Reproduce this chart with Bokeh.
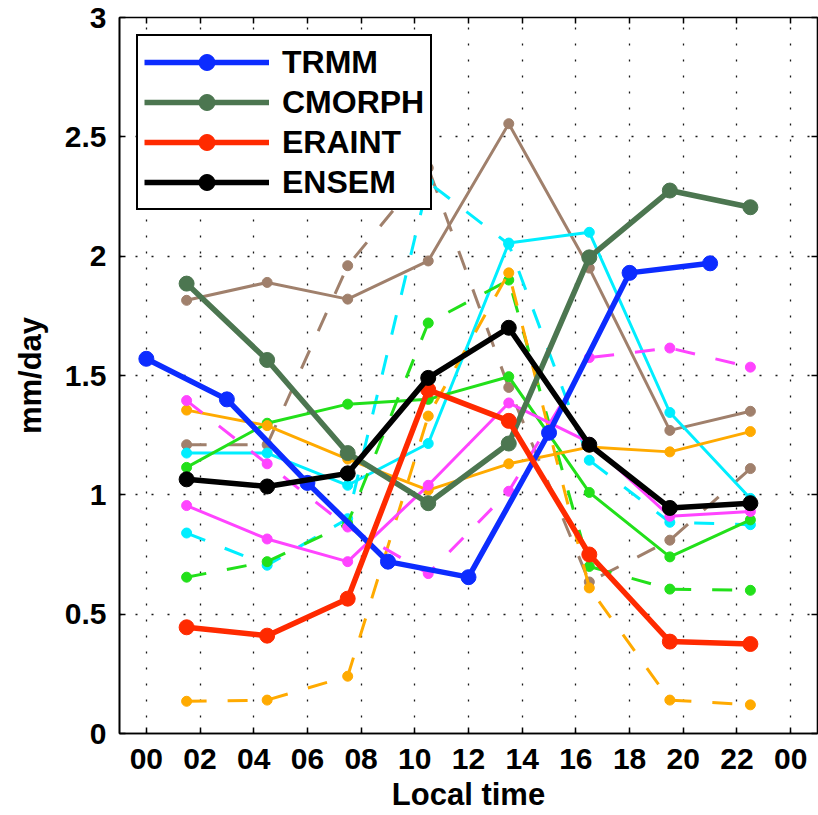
from bokeh.plotting import figure
from bokeh.models import FixedTicker, LinearAxis, Legend, LegendItem, Range1d
from bokeh.embed import file_html
from bokeh.resources import INLINE

# ---- data ----
hours_trmm = [0, 3, 6, 9, 12, 15, 18, 21]
hours_3h = [1.5, 4.5, 7.5, 10.5, 13.5, 16.5, 19.5, 22.5]

trmm = [1.57, 1.40, 1.05, 0.72, 0.655, 1.26, 1.93, 1.97]
cmorph = [1.885, 1.565, 1.175, 0.965, 1.215, 1.995, 2.275, 2.205]
eraint = [0.445, 0.41, 0.565, 1.44, 1.31, 0.75, 0.385, 0.375]
ensem = [1.065, 1.035, 1.09, 1.49, 1.70, 1.21, 0.945, 0.965]

brown_solid = [1.815, 1.89, 1.82, 1.98, 2.555, 1.95, 1.27, 1.35]
brown_dashed = [1.21, 1.21, 1.96, 2.37, 1.45, 0.635, 0.81, 1.11]
cyan_solid = [1.175, 1.175, 1.04, 1.215, 2.055, 2.10, 1.345, 0.985]
cyan_dashed = [0.84, 0.705, 0.90, 2.31, 2.05, 1.145, 0.885, 0.875]
green_solid = [1.115, 1.30, 1.38, 1.40, 1.495, 1.01, 0.74, 0.895]
green_dashed = [0.655, 0.72, 0.88, 1.72, 1.90, 0.70, 0.605, 0.60]
orange_solid = [1.355, 1.29, 1.15, 1.02, 1.13, 1.20, 1.18, 1.265]
orange_dashed = [0.135, 0.14, 0.24, 1.33, 1.93, 0.61, 0.14, 0.12]
magenta_solid = [0.955, 0.815, 0.72, 1.04, 1.385, 1.22, 0.91, 0.93]
magenta_dashed = [1.395, 1.13, 0.865, 0.67, 1.015, 1.575, 1.615, 1.535]

x_ticks = [0, 2, 4, 6, 8, 10, 12, 14, 16, 18, 20, 22, 24]
x_tick_labels = ["00", "02", "04", "06", "08", "10", "12", "14", "16", "18", "20", "22", "00"]
y_ticks = [0, 0.5, 1, 1.5, 2, 2.5, 3]
y_tick_labels = ["0", "0.5", "1", "1.5", "2", "2.5", "3"]

FONT = "Liberation Sans"

p = figure(width=818, height=815, x_range=Range1d(-1, 25), y_range=Range1d(0, 3),
           output_backend="svg", toolbar_location=None,
           min_border_left=119, min_border_right=1, min_border_top=17, min_border_bottom=82)
p.background_fill_color = "white"
p.border_fill_color = "white"
p.outline_line_color = "black"
p.outline_line_width = 1.6

# axes
for ax in (p.xaxis[0], p.yaxis[0]):
    ax.major_tick_in = 6
    ax.major_tick_out = 0
    ax.minor_tick_line_color = None
    ax.axis_line_width = 1.6
    ax.major_tick_line_width = 1.5
    ax.major_label_text_font = FONT
    ax.major_label_text_font_style = "bold"
    ax.major_label_text_font_size = "30px"
    ax.major_label_text_color = "black"
    ax.axis_label_text_font = FONT
    ax.axis_label_text_font_style = "bold"
    ax.axis_label_text_font_size = "31px"
    ax.axis_label_text_color = "black"

p.xaxis.ticker = FixedTicker(ticks=x_ticks)
p.xaxis.major_label_overrides = {t: l for t, l in zip(x_ticks, x_tick_labels)}
p.xaxis.axis_label = "Local time"
p.xaxis.major_label_standoff = 15
p.xaxis.axis_label_standoff = 5

p.yaxis.ticker = FixedTicker(ticks=y_ticks)
p.yaxis.major_label_overrides = {t: l for t, l in zip(y_ticks, y_tick_labels)}
p.yaxis.axis_label = "mm/day"
p.yaxis.major_label_standoff = 13
p.yaxis.axis_label_standoff = 14

# box ticks (top and right), labels not drawn
top_ax = LinearAxis(ticker=FixedTicker(ticks=x_ticks), major_label_text_font_size="1px",
                    major_label_text_color=None,
                    major_tick_in=6, major_tick_out=0, major_label_standoff=0,
                    minor_tick_line_color=None, axis_line_color=None, major_tick_line_width=1.5)
right_ax = LinearAxis(ticker=FixedTicker(ticks=y_ticks), major_label_text_font_size="1px",
                      major_label_text_color=None,
                      major_tick_in=6, major_tick_out=0, major_label_standoff=0,
                      minor_tick_line_color=None, axis_line_color=None, major_tick_line_width=1.5)
p.add_layout(top_ax, "above")
p.add_layout(right_ax, "right")

# grid
p.xgrid.ticker = FixedTicker(ticks=x_ticks)
p.ygrid.ticker = FixedTicker(ticks=y_ticks)
for g in (p.xgrid[0], p.ygrid[0]):
    g.grid_line_color = "black"
    g.grid_line_dash = "2 14"
    g.grid_line_width = 1.3
    g.grid_line_alpha = 0.9

DASH = "20 21"
thin = [
    (brown_solid, "#a0806c", "solid"),
    (brown_dashed, "#a0806c", DASH),
    (cyan_solid, "#00eeff", "solid"),
    (cyan_dashed, "#00eeff", DASH),
    (green_solid, "#22e01a", "solid"),
    (green_dashed, "#22e01a", DASH),
    (orange_solid, "#ffaa00", "solid"),
    (orange_dashed, "#ffaa00", DASH),
    (magenta_solid, "#ff44ff", "solid"),
    (magenta_dashed, "#ff44ff", DASH),
]
for vals, col, dash in thin:
    p.line(hours_3h, vals, line_color=col, line_width=3, line_dash=dash)
    p.scatter(hours_3h, vals, marker="circle", size=10, fill_color=col, line_color=col)

thick = [
    ("TRMM", hours_trmm, trmm, "#0c2cff"),
    ("CMORPH", hours_3h, cmorph, "#4c7650"),
    ("ERAINT", hours_3h, eraint, "#ff2a00"),
    ("ENSEM", hours_3h, ensem, "#000000"),
]
items = []
for name, xs, vals, col in thick:
    l = p.line(xs, vals, line_color=col, line_width=5.5)
    s = p.scatter(xs, vals, marker="circle", size=15, fill_color=col, line_color=col)
    items.append(LegendItem(label=name, renderers=[l, s]))

legend = Legend(items=items, location="top_left")
legend.margin = 17
legend.padding = 6
legend.spacing = 0
legend.glyph_width = 125
legend.glyph_height = 40
legend.label_height = 40
legend.label_standoff = 13
legend.label_text_font = FONT
legend.label_text_font_style = "bold"
legend.label_text_font_size = "32px"
legend.label_text_color = "black"
legend.border_line_color = "black"
legend.border_line_alpha = 1.0
legend.border_line_width = 2.5
legend.background_fill_color = "white"
legend.background_fill_alpha = 1.0
p.add_layout(legend)

open("out.html", "w").write(file_html(p, INLINE))
